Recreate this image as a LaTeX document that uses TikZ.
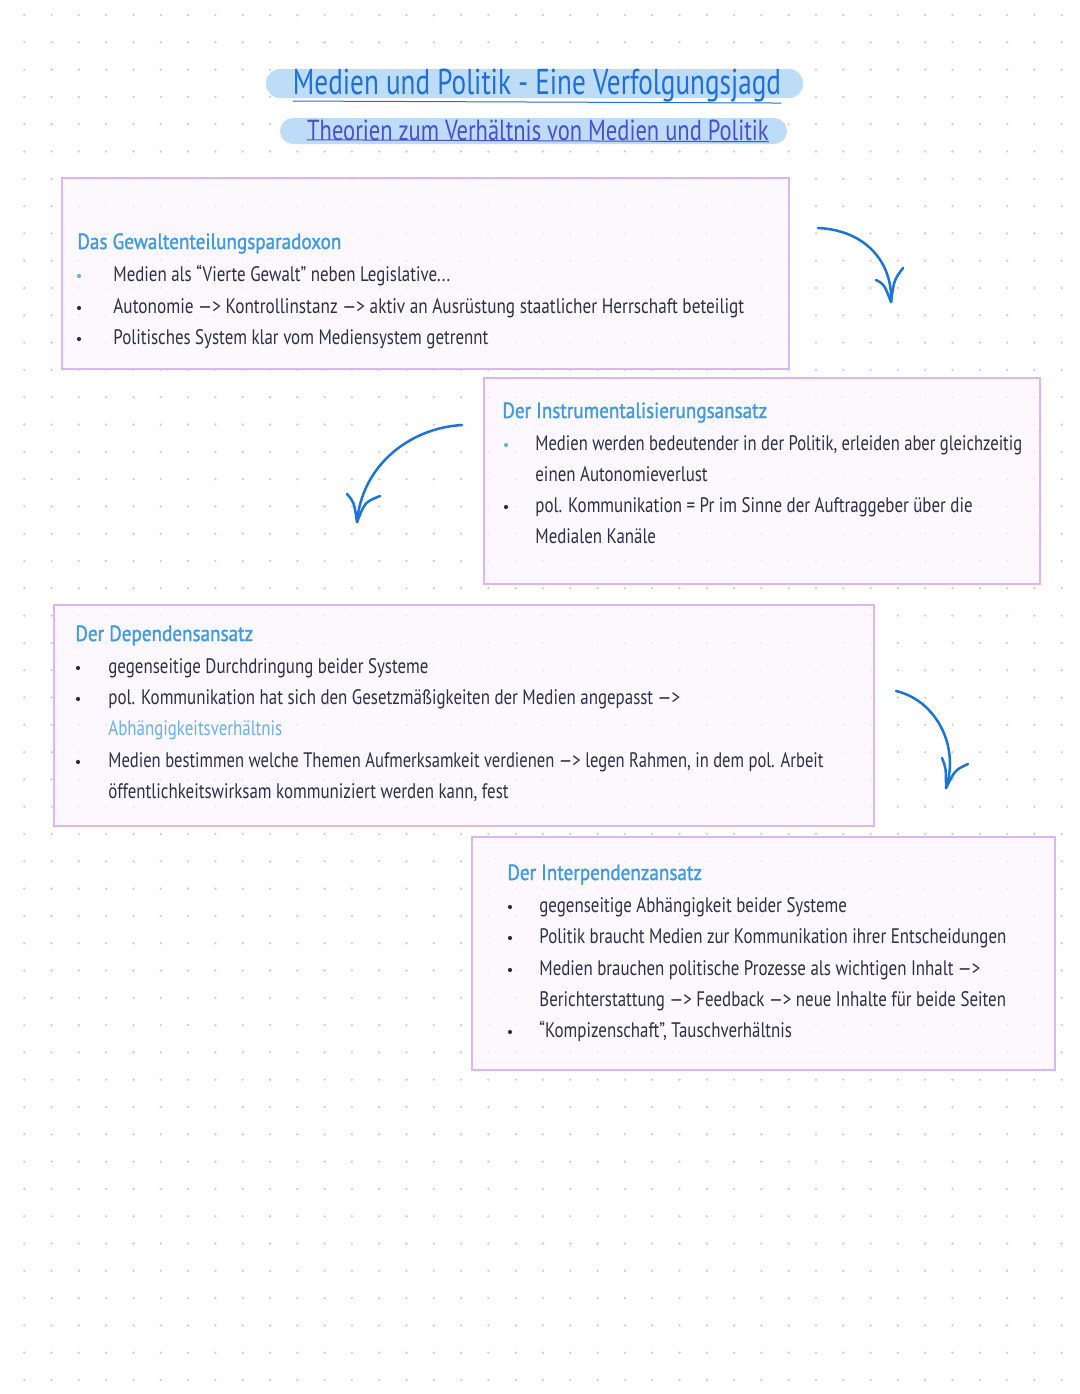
\documentclass[tikz,border=0pt]{standalone}
\usepackage{fontspec}
\setmainfont{PT Sans}
\newfontfamily\bodyf[FakeStretch=0.805]{PT Sans}
\newfontfamily\bodyw[FakeStretch=0.82]{PT Sans}
\newfontfamily\bodyn[FakeStretch=0.79]{PT Sans}
\newfontfamily\headf[FakeStretch=0.87,FakeBold=1.2]{PT Sans}
\newfontfamily\titlef[FakeStretch=0.755]{PT Sans}
\newfontfamily\subf[FakeStretch=0.776]{PT Sans}
\usetikzlibrary{fit}
\definecolor{dotc}{HTML}{CFCFD4}
\definecolor{hlc}{HTML}{BCDCF8}
\definecolor{titc}{HTML}{1F6FD9}
\definecolor{subc}{HTML}{4E4CCB}
\definecolor{headc}{HTML}{3F9AE6}
\definecolor{bodyc}{HTML}{2A3047}
\definecolor{boxd}{HTML}{DCB6F0}
\definecolor{boxf}{HTML}{FBF6FE}
\definecolor{arrc}{HTML}{1C74D8}
\definecolor{lbc}{HTML}{6AB0EC}
\begin{document}
\begin{tikzpicture}[x=0.5pt,y=-0.5pt,
  box/.style={draw=boxd,line width=0.8pt,fill=boxf,fill opacity=0.75,inner sep=0pt},
  txt/.style={anchor=base west,inner sep=0pt,text=bodyc,font=\bodyf\fontsize{10.5}{12}\selectfont},
  txtw/.style={txt,font=\bodyw\fontsize{10.5}{12}\selectfont},
  txtn/.style={txt,font=\bodyn\fontsize{10.5}{12}\selectfont},
  head/.style={anchor=base west,inner sep=0pt,text=headc,font=\headf\fontsize{11}{13}\selectfont},
  bul/.style={circle,fill=bodyc,inner sep=0pt,minimum size=2.1pt},
  bulb/.style={bul,fill=lbc},
  arr/.style={draw=arrc,line width=1.25pt,line cap=round,line join=round},
]
\useasboundingbox (0,0) rectangle (1080,1394);
\fill[white] (0,0) rectangle (1080,1394);
% dot grid
\foreach \i in {0,...,38}{
  \foreach \j in {0,...,50}{
    \fill[dotc] ({24.3+27.3*\i},{15+27.3*\j}) circle (1.3);
  }
}
% title highlights
\fill[hlc,rounded corners=7pt] (266,69) rectangle (803,98);
\fill[hlc,rounded corners=6.5pt] (280,118) rectangle (787,144);
\node[anchor=base,inner sep=0pt,text=titc,font=\titlef\fontsize{18}{21}\selectfont] (title) at (537,94) {Medien und Politik - Eine Verfolgungsjagd};
\node[anchor=base,inner sep=0pt,text=subc,font=\subf\fontsize{14.5}{17}\selectfont] (sub) at (538,140) {Theorien zum Verhältnis von Medien und Politik};
\draw[titc,line width=0.5pt] (title.south west) ++(0,-1) -- ([yshift=-0.5pt]title.south east);
\draw[subc,line width=0.5pt] (sub.south west) ++(0,-1) -- ([yshift=-0.5pt]sub.south east);
% boxes
\node[box,fit={(62,178) (789,369)}] (b1) {};
\node[box,fit={(484,378) (1040,584)}] (b2) {};
\node[box,fit={(54,605) (874,826)}] (b3) {};
\node[box,fit={(472,837) (1055,1070)}] (b4) {};
% box 1
\node[head] (h1) at (77,249) {Das Gewaltenteilungsparadoxon};
\node[bulb] (p11) at (79,276) {};
\node[bul] (p12) at (79,308) {};
\node[bul] (p13) at (79,339) {};
\node[txt] (t11) at (113,281) {Medien als “Vierte Gewalt” neben Legislative...};
\node[txtw] (t12) at (113,313) {Autonomie —> Kontrollinstanz —> aktiv an Ausrüstung staatlicher Herrschaft beteiligt};
\node[txt] (t13) at (113,344) {Politisches System klar vom Mediensystem getrennt};
% box 2
\node[head] (h2) at (502,418) {Der Instrumentalisierungsansatz};
\node[bulb] (p21) at (506,445) {};
\node[bul] (p22) at (506,507) {};
\node[txtn] (t21) at (535,450) {Medien werden bedeutender in der Politik, erleiden aber gleichzeitig};
\node[txt] (t22) at (535,481) {einen Autonomieverlust};
\node[txt] (t23) at (535,512) {pol. Kommunikation = Pr im Sinne der Auftraggeber über die};
\node[txt] (t24) at (535,543) {Medialen Kanäle};
% box 3
\node[head] (h3) at (75,641) {Der Dependensansatz};
\node[bul] (p31) at (78,668) {};
\node[bul] (p32) at (78,699) {};
\node[bul] (p33) at (78,762) {};
\node[txt] (t31) at (108,673) {gegenseitige Durchdringung beider Systeme};
\node[txt] (t32) at (108,704) {pol. Kommunikation hat sich den Gesetzmäßigkeiten der Medien angepasst —>};
\node[txt,text=lbc] (t33) at (108,735) {Abhängigkeitsverhältnis};
\node[txtn] (t34) at (108,767) {Medien bestimmen welche Themen Aufmerksamkeit verdienen —> legen Rahmen, in dem pol. Arbeit};
\node[txt] (t35) at (108,798) {öffentlichkeitswirksam kommuniziert werden kann, fest};
% box 4
\node[head] (h4) at (507,880) {Der Interpendenzansatz};
\node[bul] (p41) at (510,907) {};
\node[bul] (p42) at (510,938) {};
\node[bul] (p43) at (510,970) {};
\node[bul] (p44) at (510,1032) {};
\node[txt] (t41) at (539,912) {gegenseitige Abhängigkeit beider Systeme};
\node[txt] (t42) at (539,943) {Politik braucht Medien zur Kommunikation ihrer Entscheidungen};
\node[txt] (t43) at (539,975) {Medien brauchen politische Prozesse als wichtigen Inhalt —>};
\node[txt] (t44) at (539,1006) {Berichterstattung —> Feedback —> neue Inhalte für beide Seiten};
\node[txt] (t45) at (539,1037) {“Kompizenschaft”, Tauschverhältnis};
% arrows
\coordinate (a1s) at (818,228);
\coordinate (a1e) at (891,302);
\coordinate (a1l) at (876,280);
\coordinate (a1r) at (903,268);
\draw[arr] (a1s) .. controls (865,230) and (893,262) .. (a1e);
\draw[arr] (a1l) .. controls (884,284) .. (a1e);
\draw[arr] (a1r) .. controls (894,280) .. (a1e);
\coordinate (a2s) at (462,425);
\coordinate (a2e) at (357,522);
\coordinate (a2l) at (347,494);
\coordinate (a2r) at (380,496);
\draw[arr] (a2s) .. controls (410,428) and (362,465) .. (a2e);
\draw[arr] (a2l) .. controls (354,502) .. (a2e);
\draw[arr] (a2r) .. controls (365,502) .. (a2e);
\coordinate (a3s) at (896,691);
\coordinate (a3e) at (946,788);
\coordinate (a3l) at (942,758);
\coordinate (a3r) at (968,764);
\draw[arr] (a3s) .. controls (935,700) and (960,745) .. (a3e);
\draw[arr] (a3l) .. controls (946,768) .. (a3e);
\draw[arr] (a3r) .. controls (955,770) .. (a3e);
\end{tikzpicture}
\end{document}
